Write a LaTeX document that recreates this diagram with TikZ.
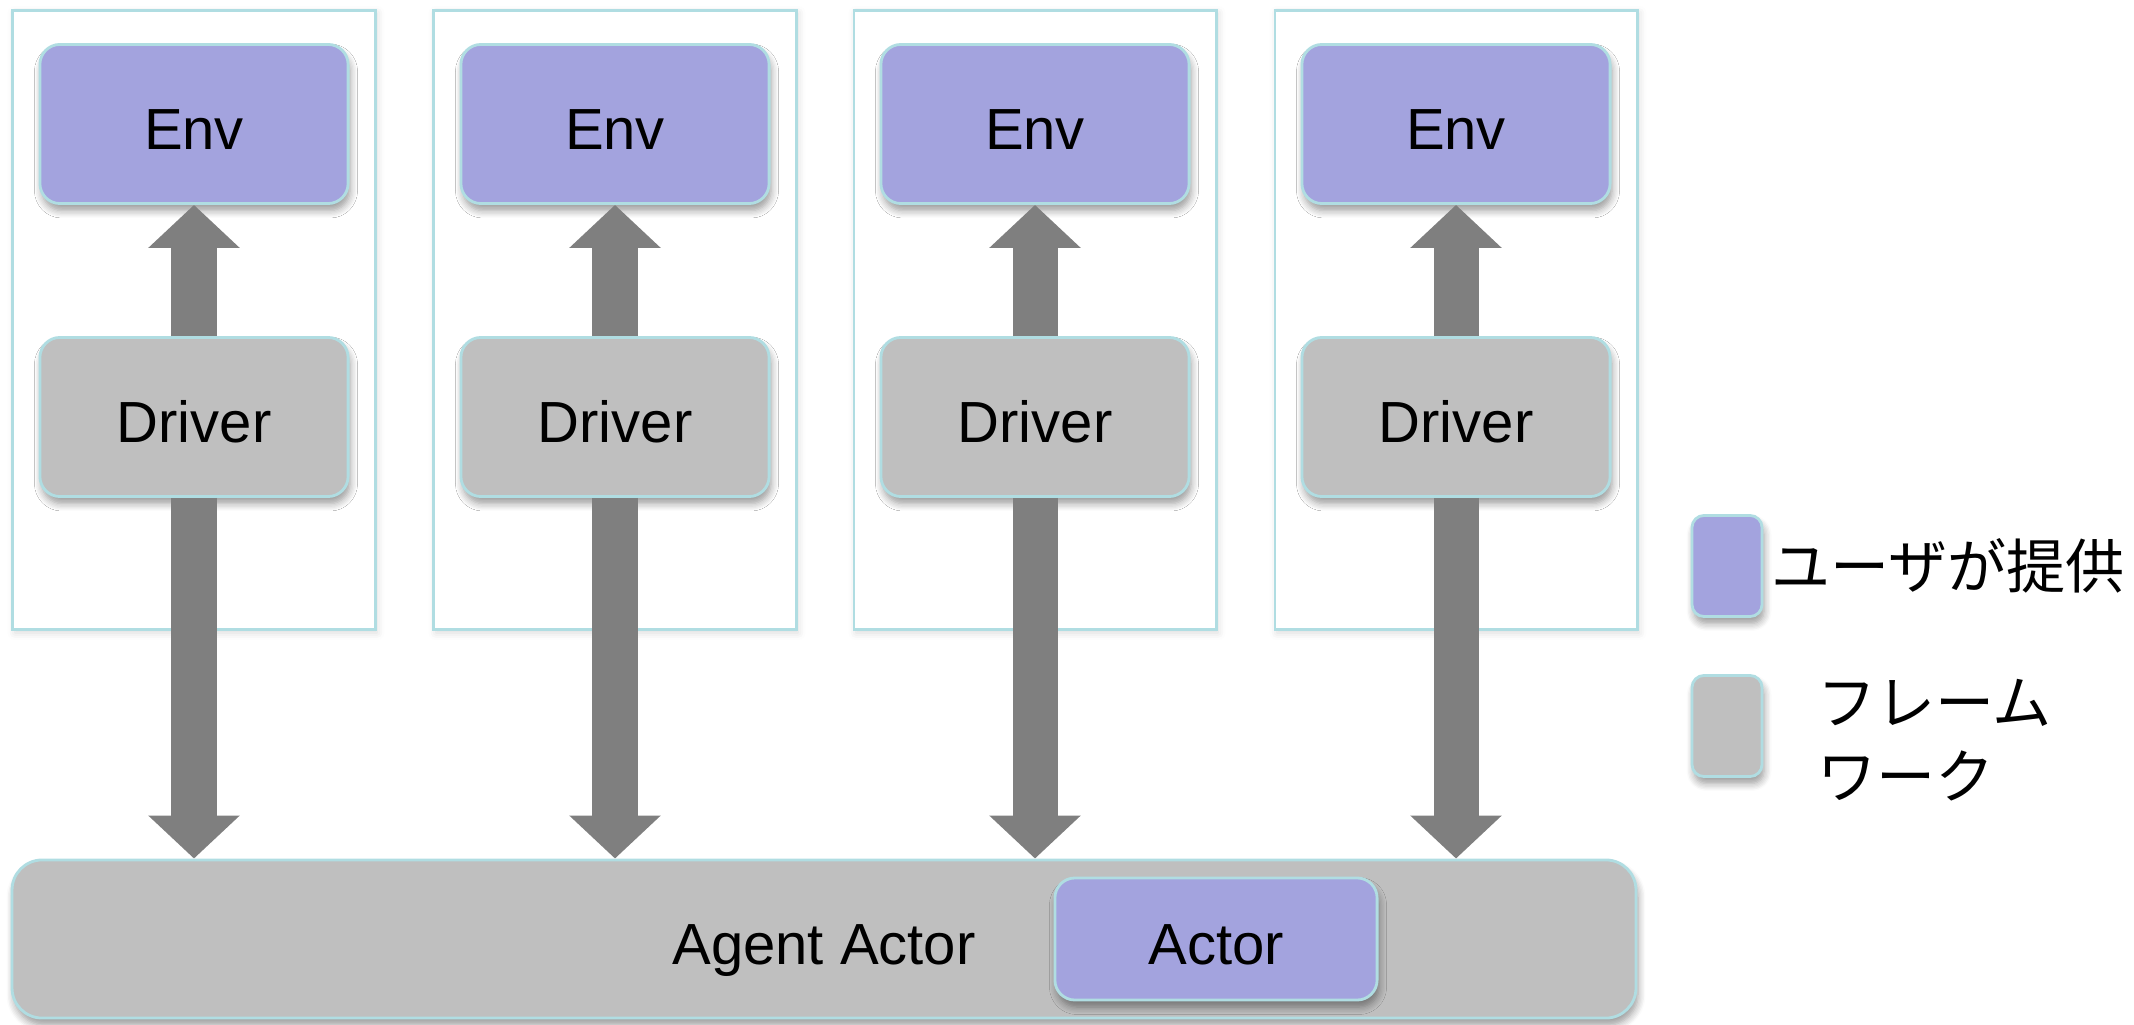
\documentclass[tikz,border=0pt]{standalone}
\usepackage{fontspec}
\setmainfont{Liberation Sans}
\newfontfamily\jpfont{Noto Sans CJK JP}
\usetikzlibrary{positioning,arrows.meta,shadows.blur}
\definecolor{usrfill}{RGB}{163,163,222}
\definecolor{fwfill}{RGB}{191,191,191}
\definecolor{edgeteal}{RGB}{176,221,226}
\definecolor{pipegray}{RGB}{127,127,127}

\begin{document}
\begin{tikzpicture}[x=0.01cm, y=-0.01cm, font=\fontsize{16.5}{20}\selectfont,
    box/.style={draw=edgeteal, line width=0.8pt, rounded corners=0.2cm,
        minimum width=3.08cm, minimum height=1.59cm,
        text height=0.5cm, text depth=0cm,
        blur shadow={shadow xshift=0.02cm, shadow yshift=-0.07cm,
            shadow blur steps=6, shadow opacity=40}},
    usr/.style={box, fill=usrfill},
    fw/.style={box, fill=fwfill},
    lane/.style={draw=edgeteal, line width=0.8pt, fill=white,
        minimum width=3.62cm, minimum height=6.19cm,
        blur shadow={shadow xshift=0.02cm, shadow yshift=-0.03cm,
            shadow blur steps=4, shadow opacity=15}},
    flow/.style={pipegray, line width=0.45cm,
        -{Triangle[width=0.89cm,length=0.43cm]}},
    jp/.style={inner sep=0pt, font=\jpfont\fontsize{16.8}{21}\selectfont}]
    \useasboundingbox (0,0) rectangle (2134,1025);

    % one lane per environment
    \foreach \i/\x in {1/194,2/615,3/1035,4/1456}{
        \node[lane] (lane\i) at (\x,320) {};
        \node[usr] (env\i) at (\x,124) {Env};
        \node[fw] (drv\i) at (\x,417) {Driver};
    }

    % the agent at the bottom
    \node[fw, minimum width=16.23cm, minimum height=1.58cm,
        rounded corners=0.3cm] (agent) at (824,939) {Agent Actor};
    \node[usr, minimum width=3.22cm, minimum height=1.22cm] (actor)
        at (1216,939) {Actor};

    \foreach \i in {1,...,4}{
        \draw[flow] (drv\i.north) -- (env\i.south);
        \draw[flow] (drv\i.south) -- (drv\i.south |- agent.north);
    }

    % legend
    \node[usr, minimum width=0.70cm, minimum height=1.01cm,
        rounded corners=0.12cm] (usrkey) at (1727,566) {};
    \node[fw, minimum width=0.70cm, minimum height=1.01cm,
        rounded corners=0.12cm] (fwkey) at (1727,726) {};
    \node[jp, right=0.07cm of usrkey] (usrtxt) {ユーザが提供};
    \node[jp, align=left, right=0.53cm of fwkey, yshift=-0.14cm] (fwtxt)
        {フレーム\\ワーク};
\end{tikzpicture}
\end{document}
